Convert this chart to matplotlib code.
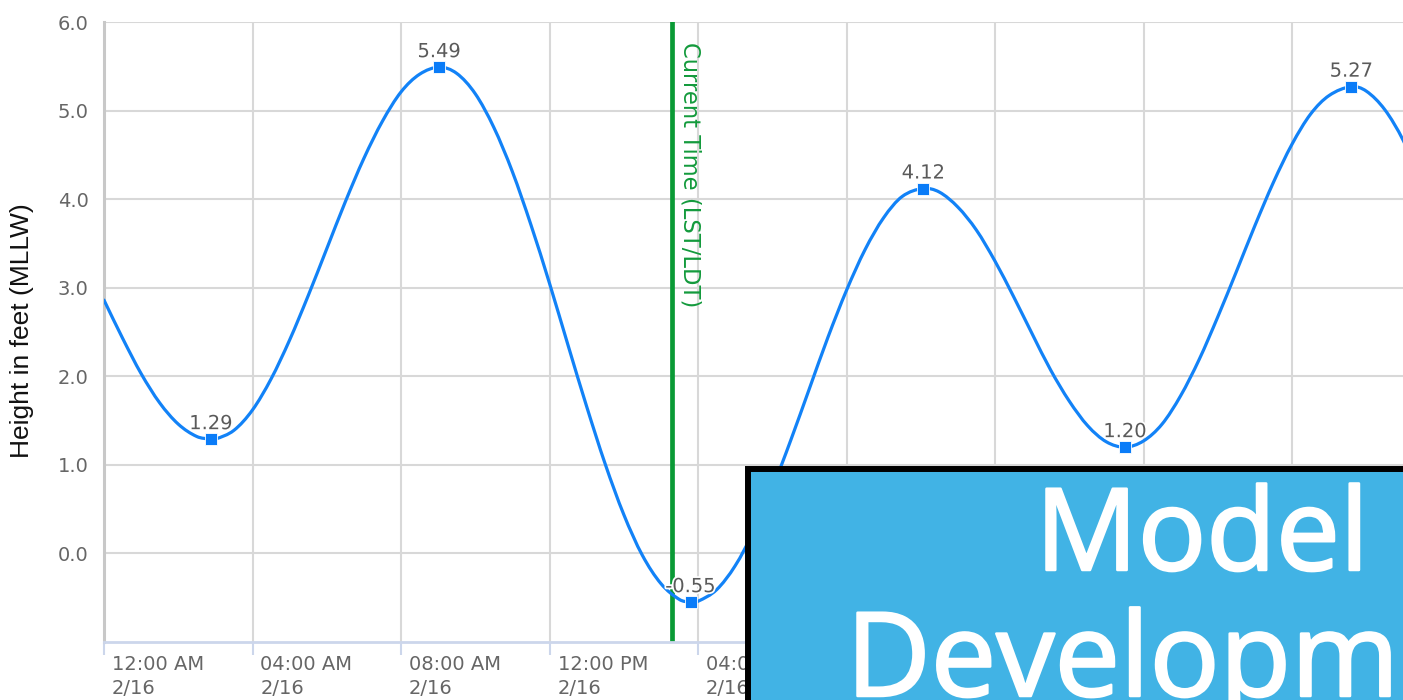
import matplotlib
matplotlib.use("Agg")
import matplotlib.pyplot as plt
from matplotlib.patches import Rectangle, PathPatch
from matplotlib.path import Path
import matplotlib.patheffects as pe

# ---- data (hours since 12:00 AM 2/16, height in feet MLLW) ----
times = [0, 0.5, 1, 1.5, 2, 2.5, 2.88,
         3, 3.5, 4, 4.5, 5, 5.5, 6, 6.5, 7, 7.5, 8, 8.5, 9.03,
         9.5, 10, 10.5, 11, 11.5, 12, 12.5, 13, 13.5, 14, 14.5, 15, 15.5, 15.8,
         16, 16.5, 17, 17.5, 18, 18.5, 19, 19.5, 20, 20.5, 21, 21.5, 22.07,
         22.5, 23, 23.5, 24, 24.5, 25, 25.5, 26, 26.5, 27, 27.5,
         28, 28.5, 29, 29.5, 30, 30.5, 31, 31.5, 32, 32.5, 33, 33.6,
         34, 34.5, 35, 35.5]
heights = [2.86, 2.43, 2.03, 1.70, 1.46, 1.32, 1.29,
           1.29, 1.39, 1.62, 1.97, 2.41, 2.91, 3.44, 3.97, 4.46, 4.88, 5.21, 5.41, 5.49,
           5.42, 5.19, 4.81, 4.31, 3.71, 3.05, 2.35, 1.66, 1.01, 0.44, -0.02, -0.34, -0.52, -0.55,
           -0.54, -0.41, -0.14, 0.25, 0.73, 1.28, 1.86, 2.44, 2.97, 3.43, 3.79, 4.03, 4.12,
           4.08, 3.91, 3.65, 3.30, 2.90, 2.48, 2.07, 1.72, 1.44, 1.26, 1.20,
           1.27, 1.46, 1.78, 2.19, 2.67, 3.18, 3.70, 4.19, 4.62, 4.96, 5.17, 5.27,
           5.22, 5.01, 4.66, 4.18]

hilo_times = [2.88, 9.03, 15.8, 22.07, 27.5, 33.6]
hilo_values = [1.29, 5.49, -0.55, 4.12, 1.20, 5.27]

current_time = 15.3

xtick_pos = [0, 4, 8, 12, 16, 20, 24, 28, 32]
xtick_labels = ["12:00 AM\n2/16", "04:00 AM\n2/16", "08:00 AM\n2/16", "12:00 PM\n2/16",
                "04:00 PM\n2/16", "08:00 PM\n2/16", "12:00 AM\n2/17", "04:00 AM\n2/17",
                "08:00 AM\n2/17"]
ytick_pos = [0, 1, 2, 3, 4, 5, 6]
ytick_labels = ["0.0", "1.0", "2.0", "3.0", "4.0", "5.0", "6.0"]


def spline_path(xs, ys):
    """Smooth (cubic Hermite / Bezier) path through the data points, like a spline series."""
    n = len(xs)
    slopes = []
    for i in range(n):
        a = max(i - 1, 0)
        b = min(i + 1, n - 1)
        slopes.append((ys[b] - ys[a]) / (xs[b] - xs[a]))
    verts = [(xs[0], ys[0])]
    codes = [Path.MOVETO]
    for i in range(n - 1):
        h = xs[i + 1] - xs[i]
        verts += [(xs[i] + h / 3, ys[i] + slopes[i] * h / 3),
                  (xs[i + 1] - h / 3, ys[i + 1] - slopes[i + 1] * h / 3),
                  (xs[i + 1], ys[i + 1])]
        codes += [Path.CURVE4] * 3
    return Path(verts, codes)


# ---- figure ----
W, H = 1403, 700
fig = plt.figure(figsize=(W / 100, H / 100), dpi=100)
fig.patch.set_facecolor("white")

px_per_hour = 37.125
x_max = 35.5
ax = fig.add_axes([104 / W, (H - 642) / H, x_max * px_per_hour / W, (642 - 22) / H])
ax.set_xlim(0, x_max)
ax.set_ylim(-1, 6)

grid_c = "#d8d8d8"
ax.set_yticks(ytick_pos)
ax.set_yticklabels(ytick_labels)
ax.set_xticks(xtick_pos)
ax.set_xticklabels(xtick_labels, ha="left", linespacing=1.38)
ax.grid(True, color=grid_c, lw=1.5, zorder=0)
ax.set_axisbelow(True)

ax.tick_params(axis="y", length=0, pad=11, labelsize=14, labelcolor="#666666")
ax.tick_params(axis="x", length=9, width=1.5, color="#ccd6eb", pad=0,
               labelsize=14, labelcolor="#666666")
for lbl in ax.get_xticklabels():
    lbl.set_transform(lbl.get_transform() + matplotlib.transforms.ScaledTranslation(8 / 100, 0, fig.dpi_scale_trans))

for s in ["top", "right"]:
    ax.spines[s].set_visible(False)
ax.spines["left"].set_color("#c8c8c8")
ax.spines["left"].set_linewidth(2.2)
ax.spines["bottom"].set_color("#ccd6eb")
ax.spines["bottom"].set_linewidth(2.0)

# current time line
ax.axvline(current_time, color="#0a9a35", lw=3.4, zorder=2)
ax.annotate("Current Time (LST/LDT)", xy=(current_time, 6), xycoords="data",
            xytext=(6, -20), textcoords="offset pixels", rotation=270,
            ha="left", va="top", color="#139a3c", fontsize=16.3, zorder=3)

# tide curve (spline through readings)
curve = PathPatch(spline_path(times, heights), facecolor="none", edgecolor="#1282f7",
                  lw=2.3, zorder=4, capstyle="round", joinstyle="round")
ax.add_patch(curve)
ax.plot(hilo_times, hilo_values, ls="none", marker="s", ms=8.8, color="#0a7cf8",
        mec="white", mew=0.6, zorder=5)
for t, v in zip(hilo_times, hilo_values):
    ax.annotate(f"{v:.2f}", xy=(t, v), xytext=(0, 6), textcoords="offset pixels",
                ha="center", va="bottom", fontsize=14, color="#5a5a5a", zorder=6,
                path_effects=[pe.withStroke(linewidth=2.5, foreground="white")])

# y axis title
fig.text(22 / W, 1 - 331 / H, "Height in feet (MLLW)", rotation=90, ha="center",
         va="center", fontsize=19, family="Liberation Sans", color="#111111")

# overlay box
box = Rectangle((748 / W, -0.3), 1.0, (H - 469) / H + 0.3, transform=fig.transFigure,
                facecolor="#41b3e5", edgecolor="black", lw=4.3, zorder=20)
fig.add_artist(box)
thick = [pe.withStroke(linewidth=1.8, foreground="white")]
fig.text(1202 / W, 1 - 570 / H, "Model", ha="center", va="baseline", fontsize=82,
         family="Open Sans", color="white", zorder=21, path_effects=thick)
fig.text(1212 / W, 1 - 696 / H, "Development", ha="center", va="baseline", fontsize=84,
         family="Open Sans", color="white", zorder=21, path_effects=thick)

fig.savefig("out.png", dpi=100)
